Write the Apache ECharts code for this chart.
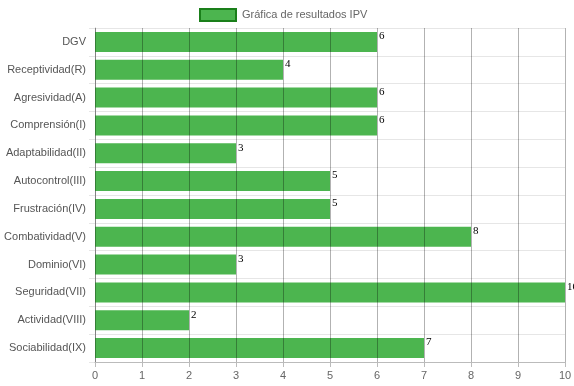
<!DOCTYPE html>
<html>
<head>
<meta charset="utf-8">
<script src="https://cdn.jsdelivr.net/npm/echarts@6/dist/echarts.min.js"></script>
<style>html,body{margin:0;padding:0;background:#fff}#c{width:574px;height:386px}</style>
</head>
<body>
<div id="c"></div>
<script>
var categories = ["DGV","Receptividad(R)","Agresividad(A)","Comprensión(I)","Adaptabilidad(II)","Autocontrol(III)","Frustración(IV)","Combatividad(V)","Dominio(VI)","Seguridad(VII)","Actividad(VIII)","Sociabilidad(IX)"];
var values = [6,4,6,6,3,5,5,8,3,10,2,7];
var seriesName = "Gráfica de resultados IPV";

var chart = echarts.init(document.getElementById('c'), null, {renderer:'canvas'});
chart.setOption({
  animation: false,
  textStyle: {fontFamily: 'Liberation Sans, Arial, sans-serif'},
  legend: {
    top: 3,
    left: 194,
    itemWidth: 36,
    itemHeight: 12,
    icon: 'rect',
    itemGap: 10,
    textStyle: {color: '#666', fontSize: 11, padding: [0, 0, 0, 1]},
    data: [{name: seriesName, itemStyle: {color: '#4cb54f', borderColor: '#1a7f1a', borderWidth: 2}}]
  },
  grid: {left: 95, right: 9, top: 28, bottom: 24, containLabel: false, outerBoundsMode: 'none'},
  xAxis: {
    type: 'value', min: 0, max: 10, interval: 1, z: 3,
    axisLine: {show: true, lineStyle: {color: '#bbb'}},
    axisTick: {show: true, length: 5, lineStyle: {color: '#bbb'}},
    axisLabel: {color: '#666', fontSize: 11, margin: 8},
    splitLine: {show: true, lineStyle: {color: 'rgba(0,0,0,0.3)', width: 1}}
  },
  yAxis: {
    type: 'category', data: categories, inverse: true,
    axisLine: {show: true, lineStyle: {color: '#bbb'}},
    axisTick: {show: true, length: 6, lineStyle: {color: '#e6e6e6'}},
    axisLabel: {color: '#555', fontSize: 11, margin: 9},
    splitLine: {show: true, lineStyle: {color: '#e6e6e6'}}
  },
  series: [{
    name: seriesName,
    type: 'bar',
    data: values,
    barCategoryGap: '28%',
    itemStyle: {color: '#4cb54f'},
    label: {
      show: true,
      position: ['100%', 0],
      align: 'left',
      verticalAlign: 'top',
      offset: [2, -1],
      color: '#000',
      fontSize: 11,
      fontFamily: 'Liberation Serif, Times New Roman, serif'
    }
  }]
});
</script>
</body>
</html>
